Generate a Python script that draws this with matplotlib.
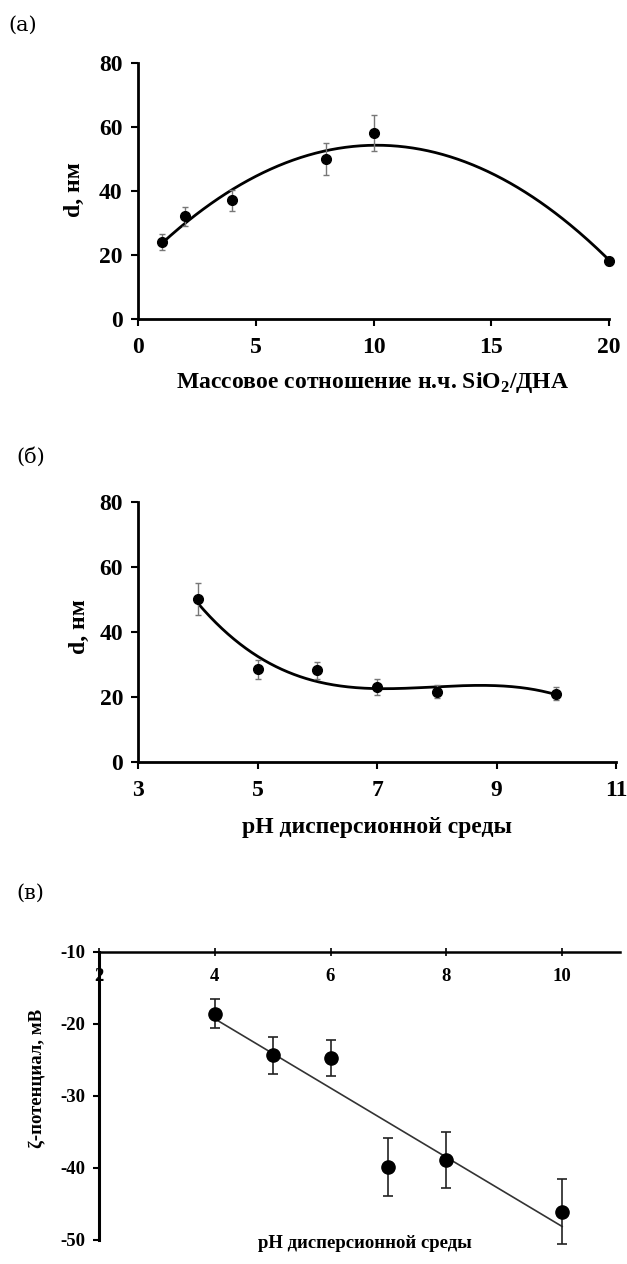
import numpy as np
import matplotlib
matplotlib.use("Agg")
import matplotlib.pyplot as plt

# ---------------- data ----------------
# (a) size vs mass ratio
ratio_a = [1, 2, 4, 8, 10, 20]
d_a = [24, 32, 37, 50, 58, 18]
err_a = [2.5, 3, 3.3, 5, 5.7, 1]

# (б) size vs pH
ph_b = [4, 5, 6, 7, 8, 10]
d_b = [50, 28.4, 28.1, 23.0, 21.5, 20.9]
err_b = [5, 2.8, 2.5, 2.4, 2, 2]

# (в) zeta potential vs pH
ph_c = [4, 5, 6, 7, 8, 10]
zeta_c = [-18.6, -24.4, -24.8, -39.9, -38.9, -46.1]
err_c = [2, 2.5, 2.5, 4, 3.9, 4.5]

xt_a = [0, 5, 10, 15, 20]
yt_ab = [0, 20, 40, 60, 80]
xt_b = [3, 5, 7, 9, 11]
xt_c = [2, 4, 6, 8, 10]
yt_c = [-10, -20, -30, -40, -50]

W, H = 627, 1264
SERIF = ["Liberation Serif", "DejaVu Serif"]
plt.rcParams["font.family"] = SERIF
plt.rcParams["axes.unicode_minus"] = False
plt.rcParams["mathtext.fontset"] = "custom"
plt.rcParams["mathtext.rm"] = "Liberation Serif"
plt.rcParams["mathtext.bf"] = "Liberation Serif:bold"

fig = plt.figure(figsize=(W / 100, H / 100), dpi=100)
fig.patch.set_facecolor("white")


def ax_at(x0, x1, ytop, ybot):
    return fig.add_axes([x0 / W, 1 - ybot / H, (x1 - x0) / W, (ybot - ytop) / H])


def ftext(x, y, s, **kw):
    fig.text(x / W, 1 - y / H, s, **kw)


TICKFS = 17


def style_ab(ax, xticks, xlim):
    ax.set_xlim(*xlim)
    ax.set_ylim(0, 80)
    ax.set_xticks(xticks)
    ax.set_yticks(yt_ab)
    for s in ["top", "right"]:
        ax.spines[s].set_visible(False)
    for s in ["left", "bottom"]:
        ax.spines[s].set_linewidth(2)
    ax.tick_params(direction="out", length=5, width=1.5)
    ax.tick_params(axis="y", pad=6)
    ax.tick_params(axis="x", pad=8)
    for lab in ax.get_xticklabels() + ax.get_yticklabels():
        lab.set_fontweight("bold")
        lab.set_fontsize(TICKFS)
    ax.set_facecolor("none")


PANEL = dict(fontsize=15, va="center", ha="left", family=["DejaVu Serif"])

# ---------- panel (a) ----------
ax1 = ax_at(138, 609, 62.7, 319)
style_ab(ax1, xt_a, (0, 20))
c1 = np.polyfit(ratio_a, d_a, 2)
xs = np.linspace(min(ratio_a), max(ratio_a), 300)
ax1.plot(xs, np.polyval(c1, xs), color="black", lw=2, zorder=3)
ax1.errorbar(ratio_a, d_a, yerr=err_a, fmt="o", color="black", ms=7,
             ecolor="#777777", elinewidth=1, capsize=2.5, capthick=1, zorder=4,
             clip_on=False)
ftext(8, 25, "(а)", **PANEL)
ftext(74, 190, "d, нм", fontsize=17, fontweight="bold", rotation=90,
      va="center", ha="center")
ftext(373, 383, "Массовое сотношение н.ч. SiO$_\\mathbf{2}$/ДНА", fontsize=17,
      fontweight="bold", va="center", ha="center")

# ---------- panel (б) ----------
ax2 = ax_at(138.3, 616, 501.7, 761.7)
style_ab(ax2, xt_b, (3, 11))
c2 = np.polyfit(ph_b, d_b, 3)
xs2 = np.linspace(min(ph_b), max(ph_b), 300)
ax2.plot(xs2, np.polyval(c2, xs2), color="black", lw=2, zorder=3)
ax2.errorbar(ph_b, d_b, yerr=err_b, fmt="o", color="black", ms=7,
             ecolor="#777777", elinewidth=1, capsize=2.5, capthick=1, zorder=4)
ftext(16, 457, "(б)", **PANEL)
ftext(79, 627, "d, нм", fontsize=17, fontweight="bold", rotation=90,
      va="center", ha="center")
ftext(377, 828, "pH дисперсионной среды", fontsize=17, fontweight="bold",
      va="center", ha="center")

# ---------- panel (в) ----------
ax3 = ax_at(99, 620, 951.7, 1240)
ax3.set_xlim(2, 11)
ax3.set_ylim(-50, -10)
ax3.set_xticks(xt_c)
ax3.set_yticks(yt_c)
ax3.spines["top"].set_visible(False)
ax3.spines["right"].set_visible(False)
ax3.spines["bottom"].set_position(("data", -10))
ax3.spines["bottom"].set_linewidth(1.8)
ax3.spines["left"].set_linewidth(2.2)
ax3.tick_params(axis="x", direction="inout", length=6, width=1.2, pad=9)
ax3.tick_params(axis="y", direction="out", length=4, width=1.5, pad=6)
for lab in ax3.get_xticklabels() + ax3.get_yticklabels():
    lab.set_fontweight("bold")
    lab.set_fontsize(13.5)
ax3.set_facecolor("none")
c3 = np.polyfit(ph_c, zeta_c, 1)
xs3 = np.array([min(ph_c), max(ph_c)])
ax3.plot(xs3, np.polyval(c3, xs3), color="#333333", lw=1.2, zorder=3)
ax3.errorbar(ph_c, zeta_c, yerr=err_c, fmt="o", color="black", ms=9.5,
             ecolor="#222222", elinewidth=1.2, capsize=3.5, capthick=1.2,
             zorder=4, clip_on=False)
ftext(16, 893, "(в)", **PANEL)
ftext(38, 1078, "ζ-потенциал, мВ", fontsize=13.5, fontweight="bold",
      rotation=90, va="center", ha="center")
ftext(365, 1243, "pH дисперсионной среды", fontsize=13.5, fontweight="bold",
      va="center", ha="center")

fig.savefig("out.png", dpi=100, facecolor="white")
